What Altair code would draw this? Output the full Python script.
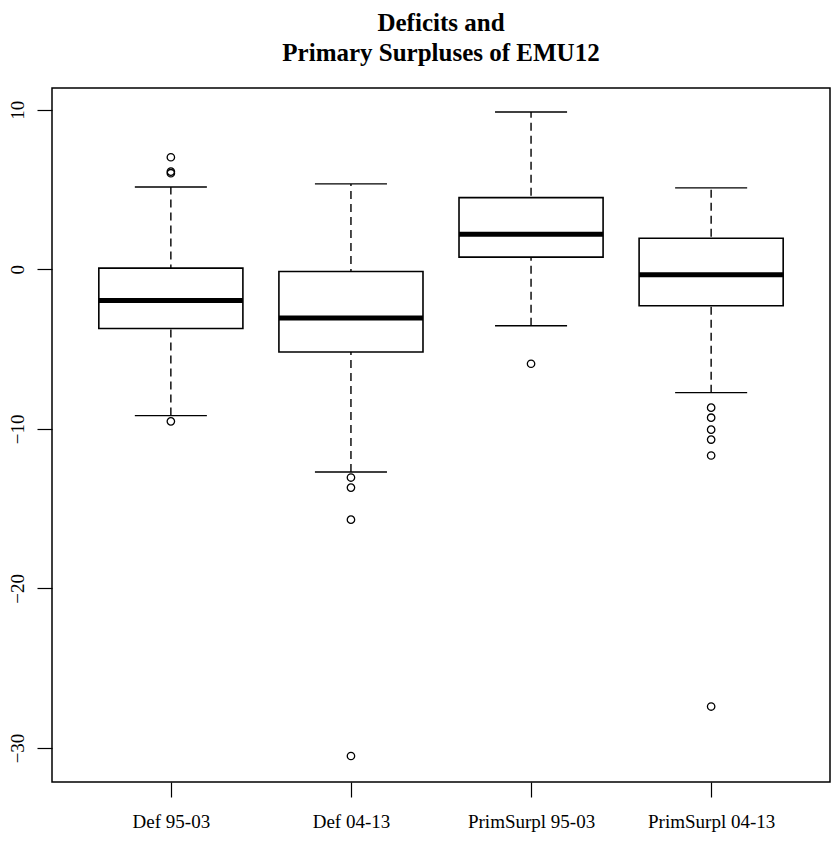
import json
import altair as alt
import pandas as pd

# ---- data ----
categories = ["Def 95-03", "Def 04-13", "PrimSurpl 95-03", "PrimSurpl 04-13"]
positions = [1, 2, 3, 4]
lower_whisker = [-9.17, -12.7, -3.54, -7.73]
q1 = [-3.71, -5.18, 0.76, -2.29]
median = [-1.95, -3.05, 2.20, -0.34]
q3 = [0.07, -0.14, 4.49, 1.94]
upper_whisker = [5.16, 5.35, 9.86, 5.10]

outlier_pos = [1, 1, 1, 1,
               2, 2, 2, 2,
               3,
               4, 4, 4, 4, 4, 4]
outlier_val = [7.02, 6.12, 6.02, -9.53,
               -13.05, -13.68, -15.69, -30.5,
               -5.92,
               -8.67, -9.30, -10.05, -10.67, -11.67, -27.4]

title_lines = ["Deficits and", "Primary Surpluses of EMU12"]
y_ticks = [-30, -20, -10, 0, 10]

boxes = pd.DataFrame({
    "pos": positions, "cat": categories, "lo": lower_whisker, "q1": q1,
    "med": median, "q3": q3, "hi": upper_whisker,
})
outs = pd.DataFrame({"pos": outlier_pos, "val": outlier_val})

FONT = "Liberation Serif"
HALF = 0.4   # half box width (boxwex 0.8)
CAP = 0.2    # half staple width

xscale = alt.Scale(domain=[0.34, 4.66], nice=False, zero=False)
yscale = alt.Scale(domain=[-32.13, 11.36], nice=False, zero=False)

label_expr = json.dumps(categories) + "[datum.value - 1]"

xaxis = alt.Axis(values=positions, labelExpr=label_expr, title=None, grid=False,
                 domain=False, labelPadding=15, labelFontSize=19,
                 labelFont=FONT, labelColor="black")
yaxis = alt.Axis(values=y_ticks, title=None, grid=False, domain=False,
                 labelAngle=270, labelAlign="center", labelBaseline="bottom",
                 labelPadding=10, labelFontSize=19,
                 labelFont=FONT, labelColor="black")

base = alt.Chart(boxes).transform_calculate(
    left=f"datum.pos - {HALF}", right=f"datum.pos + {HALF}",
    cl=f"datum.pos - {CAP}", cr=f"datum.pos + {CAP}",
)

whisker = base.mark_rule(color="black", strokeWidth=1.4, strokeDash=[8, 5]).encode(
    x=alt.X("pos:Q", scale=xscale, axis=xaxis),
    y=alt.Y("lo:Q", scale=yscale, axis=yaxis),
    y2="hi:Q",
)
cap_hi = base.mark_rule(color="black", strokeWidth=1.4).encode(
    x=alt.X("cl:Q", scale=xscale), x2="cr:Q",
    y=alt.Y("hi:Q", scale=yscale),
)
cap_lo = base.mark_rule(color="black", strokeWidth=1.4).encode(
    x=alt.X("cl:Q", scale=xscale), x2="cr:Q",
    y=alt.Y("lo:Q", scale=yscale),
)
box = base.mark_rect(fill="white", stroke="black", strokeWidth=1.6).encode(
    x=alt.X("left:Q", scale=xscale), x2="right:Q",
    y=alt.Y("q1:Q", scale=yscale), y2="q3:Q",
)
med = base.mark_rule(color="black", strokeWidth=5).encode(
    x=alt.X("left:Q", scale=xscale), x2="right:Q",
    y=alt.Y("med:Q", scale=yscale),
)
pts = alt.Chart(outs).mark_point(shape="circle", filled=False, color="black",
                                 size=55, strokeWidth=1.3, opacity=1).encode(
    x=alt.X("pos:Q", scale=xscale),
    y=alt.Y("val:Q", scale=yscale),
)

chart = alt.layer(whisker, cap_hi, cap_lo, box, med, pts).properties(
    width=778, height=694,
    title=alt.TitleParams(title_lines, font=FONT, fontSize=25, fontWeight="bold",
                          color="black", anchor="middle", lineHeight=30,
                          baseline="bottom", offset=-3),
    autosize=alt.AutoSizeParams(type="none"),
    padding={"left": 44, "top": 80, "right": 1, "bottom": 52},
    background="white",
).configure_view(
    stroke="black", strokeWidth=1.5
).configure_axis(
    domain=False, grid=False, tickColor="black", tickSize=15, tickWidth=1.2,
    labelFont=FONT, labelColor="black",
)

chart.save("out.html", embed_options={"renderer": "svg", "actions": False})
